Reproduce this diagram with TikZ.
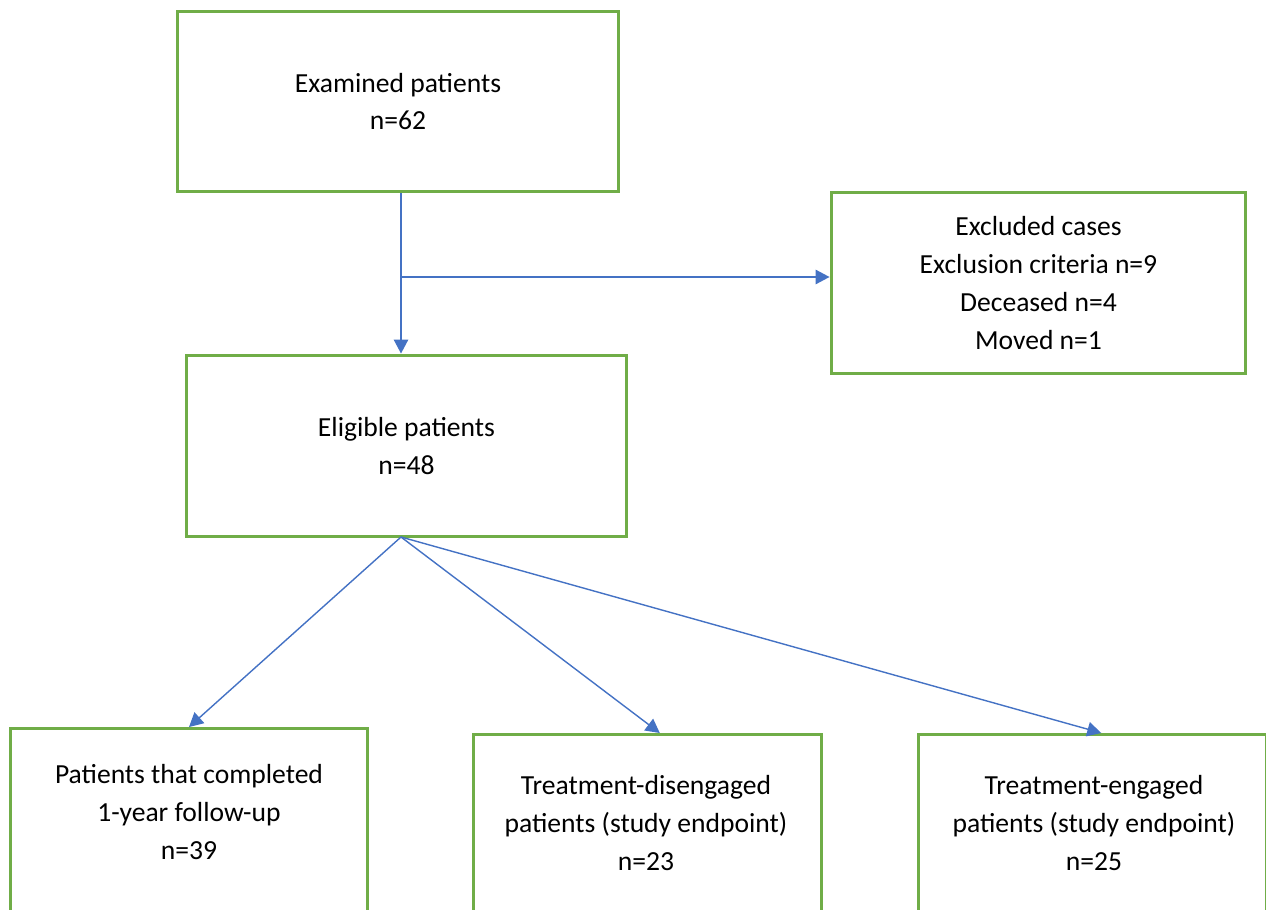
\documentclass[tikz,border=0pt]{standalone}
\usepackage{fontspec}
\setmainfont{Carlito}
\usepackage{tikz}
\usetikzlibrary{arrows.meta,positioning}
\definecolor{boxgreen}{HTML}{70AD47}
\definecolor{flowblue}{HTML}{4472C4}

\begin{document}
\begin{tikzpicture}[x=0.02cm, y=-0.02cm, every node/.style={align=center, font=\fontsize{15.7}{21.6}\selectfont}, box/.style={draw=boxgreen, line width=1.7pt}, flow/.style={draw=flowblue, line width=0.8pt, -{Triangle[length=0.28cm, width=0.29cm]}}]
				\useasboundingbox (0,0) rectangle (1266,909);
				\clip (0,0) rectangle (1266,909);
				
				\node[box, minimum width=8.84cm, minimum height=3.62cm] (examined) at (398,101.5) {Examined patients\\n=62};
				\node[box, minimum width=8.3cm, minimum height=3.64cm] (excluded) at (1038.5,283) {Excluded cases\\Exclusion criteria n=9\\Deceased n=4\\Moved n=1};
				\node[box, minimum width=8.82cm, minimum height=3.64cm] (eligible) at (406.5,446) {Eligible patients\\n=48};
				
				\node[box, minimum width=7.16cm, minimum height=4cm, anchor=north] (completed) at (189,727) {};
				\node (completedtxt) at (189,812) {Patients that completed\\1-year follow-up\\n=39};
				\node[box, minimum width=6.98cm, minimum height=4cm, anchor=north] (disengaged) at (647.5,733) {};
				\node (disengagedtxt) at (646,823) {Treatment-disengaged\\patients (study endpoint)\\n=23};
				\node[box, minimum width=6.98cm, minimum height=4cm, anchor=north] (engaged) at (1092.5,733) {};
				\node (engagedtxt) at (1094,823) {Treatment-engaged\\patients (study endpoint)\\n=25};
				
				\coordinate (branch) at (401,277);
				\coordinate (fork) at (401,537);
				
				\path[flow] (examined.south -| branch) -- (eligible.north -| branch);
				\path[flow] (branch) -- (excluded.west |- branch);
				\path[flow] (fork) -- (completed.north);
				\path[flow] (fork) -- ([xshift=7] disengaged.north);
				\path[flow] (fork) -- ([xshift=5] engaged.north);
\end{tikzpicture}
\end{document}
